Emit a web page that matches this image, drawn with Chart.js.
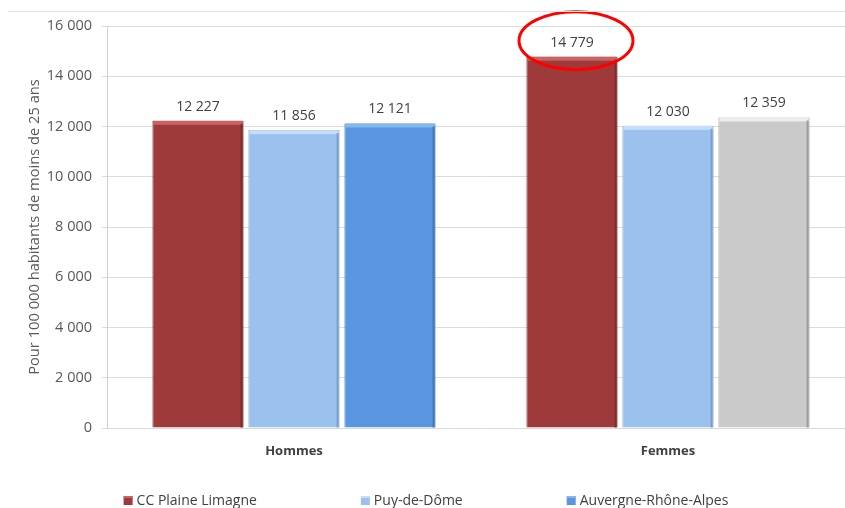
<!DOCTYPE html>
<html>
<head>
<meta charset="utf-8">
<script src="https://cdn.jsdelivr.net/npm/chart.js@4.4.0/dist/chart.umd.min.js"></script>
<style>
  html, body { margin: 0; padding: 0; background: #fff; overflow: hidden; width: 845px; height: 508px; }
  #wrap { position: relative; width: 880px; height: 508px; }
  #topline { position: absolute; left: 8px; top: 11px; width: 880px; height: 1px; background: #e2e2e2; }
</style>
</head>
<body>
<div id="wrap">
  <div id="topline"></div>
  <canvas id="canvas" width="880" height="508"></canvas>
</div>
<script>
// donnees
const categories = ['Hommes', 'Femmes'];
const seriesNames = ['CC Plaine Limagne', 'Puy-de-Dôme', 'Auvergne-Rhône-Alpes'];
const valeursCC = [12227, 14779];
const valeursPDD = [11856, 12030];
const valeursARA = [12121, 12359];
const yTicks = [0, 2000, 4000, 6000, 8000, 10000, 12000, 14000, 16000];

const couleurs = {
    rouge: '#9e3a39',
    bleuClair: '#9bc1ef',
    bleu: '#5a96df',
    gris: '#cacaca'
};
const couleursHaut = {
    '#9e3a39': '#c96463',
    '#9bc1ef': '#c6ddf8',
    '#5a96df': '#86b8f0',
    '#cacaca': '#ececec'
};
const couleursBord = {
    '#9e3a39': '#7d2c2b',
    '#9bc1ef': '#7a9fcc',
    '#5a96df': '#4177ba',
    '#cacaca': '#9c9c9c'
};

function formatNombre(v) {
    return String(v).replace(/\B(?=(\d{3})+(?!\d))/g, ' ');
}

const police = "'Open Sans', 'DejaVu Sans', sans-serif";

// effet 3D simple : bande claire en haut de chaque barre
const reliefBarres = {
    id: 'reliefBarres',
    afterDatasetsDraw(chart) {
        const ctx = chart.ctx;
        chart.data.datasets.forEach((ds, i) => {
            chart.getDatasetMeta(i).data.forEach((bar, j) => {
                const fond = Array.isArray(ds.backgroundColor) ? ds.backgroundColor[j] : ds.backgroundColor;
                const w = bar.width;
                const x0 = bar.x - w / 2;
                ctx.save();
                ctx.fillStyle = couleursHaut[fond];
                ctx.fillRect(x0 + 1, bar.y, w - 2, 4);
                ctx.fillStyle = couleursBord[fond];
                ctx.fillRect(x0 + w - 3, bar.y + 3, 2, bar.base - bar.y - 3);
                ctx.restore();
            });
        });
    }
};

// valeurs au-dessus des barres
const etiquettes = {
    id: 'etiquettes',
    afterDatasetsDraw(chart) {
        const ctx = chart.ctx;
        ctx.save();
        ctx.font = '14px ' + police;
        ctx.fillStyle = '#404040';
        ctx.textAlign = 'center';
        ctx.textBaseline = 'middle';
        chart.data.datasets.forEach((ds, i) => {
            chart.getDatasetMeta(i).data.forEach((bar, j) => {
                ctx.fillText(formatNombre(ds.data[j]), bar.x, bar.y - 14);
            });
        });
        ctx.restore();
    }
};

// cercle rouge autour de la valeur max
const cercle = {
    id: 'cercle',
    afterDraw(chart) {
        const bar = chart.getDatasetMeta(0).data[1];
        const ctx = chart.ctx;
        ctx.save();
        ctx.strokeStyle = '#ff0000';
        ctx.lineWidth = 3;
        ctx.beginPath();
        ctx.ellipse(bar.x + 4, bar.y - 16, 57, 29, 0, 0, Math.PI * 2);
        ctx.stroke();
        ctx.restore();
    }
};

// legende dessinee a la main (espacement large)
const legende = {
    id: 'legende',
    afterDraw(chart) {
        const ctx = chart.ctx;
        ctx.save();
        ctx.font = '14px ' + police;
        ctx.textBaseline = 'middle';
        const ecart = 104;
        let largeurs = chart.data.datasets.map(ds => ctx.measureText(ds.label).width);
        let total = largeurs.reduce((a, b) => a + b, 0) + 3 * 13 + 2 * ecart;
        let x = 426 - total / 2;
        const y = 501;
        chart.data.datasets.forEach((ds, i) => {
            const c = ds.legendColor;
            ctx.fillStyle = c;
            ctx.fillRect(x, y - 5, 9, 9);
            ctx.fillStyle = couleursHaut[c];
            ctx.fillRect(x, y - 5, 9, 2);
            ctx.fillStyle = '#404040';
            ctx.fillText(ds.label, x + 13, y);
            x += 13 + largeurs[i] + ecart;
        });
        ctx.restore();
    }
};

let ctx = document.getElementById('canvas').getContext('2d');
let myChart = new Chart(ctx, {
    type: 'bar',
    data: {
        labels: categories,
        datasets: [
            {
                label: seriesNames[0],
                data: valeursCC,
                backgroundColor: couleurs.rouge,
                borderColor: couleursBord[couleurs.rouge],
                borderWidth: 1,
                legendColor: couleurs.rouge
            },
            {
                label: seriesNames[1],
                data: valeursPDD,
                backgroundColor: couleurs.bleuClair,
                borderColor: couleursBord[couleurs.bleuClair],
                borderWidth: 1,
                legendColor: couleurs.bleuClair
            },
            {
                label: seriesNames[2],
                data: valeursARA,
                backgroundColor: [couleurs.bleu, couleurs.gris],
                borderColor: [couleursBord[couleurs.bleu], couleursBord[couleurs.gris]],
                borderWidth: 1,
                legendColor: couleurs.bleu
            }
        ]
    },
    options: {
        responsive: false,
        animation: false,
        layout: {
            padding: { left: 0, top: 26, right: 25, bottom: 0 }
        },
        datasets: {
            bar: {
                categoryPercentage: 0.77,
                barPercentage: 0.95
            }
        },
        plugins: {
            legend: { display: false },
            tooltip: { enabled: false }
        },
        scales: {
            x: {
                grid: { display: false, drawTicks: false },
                border: { display: true, color: '#d9d9d9', width: 1 },
                ticks: {
                    padding: 15,
                    color: '#404040',
                    font: { family: police, size: 13, weight: 'bold' }
                },
                afterFit: s => { s.height = 80; }
            },
            y: {
                min: 0,
                max: 16000,
                afterBuildTicks: s => { s.ticks = yTicks.map(v => ({ value: v })); },
                grid: { color: '#dcdcdc', tickLength: 5 },
                border: { display: true, color: '#cfcfcf', width: 1 },
                ticks: {
                    padding: 10,
                    color: '#595959',
                    font: { family: police, size: 14.5 },
                    callback: v => formatNombre(v)
                },
                title: {
                    display: true,
                    text: 'Pour 100 000 habitants de moins de 25 ans',
                    color: '#595959',
                    padding: { top: 26, bottom: 0 },
                    font: { family: police, size: 14.7 }
                },
                afterFit: s => { s.width = 107; }
            }
        }
    },
    plugins: [reliefBarres, etiquettes, cercle, legende]
});
</script>
</body>
</html>
